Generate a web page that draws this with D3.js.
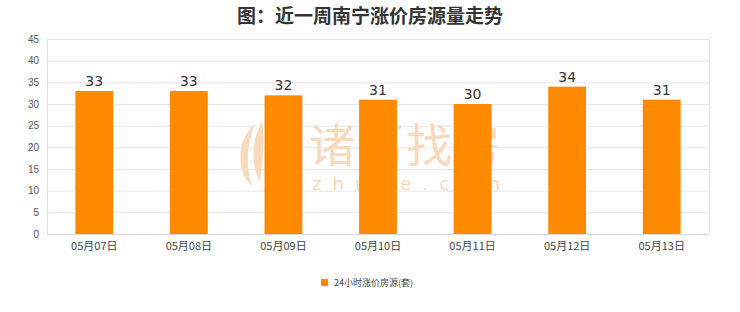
<!DOCTYPE html>
<html><head><meta charset="utf-8">
<script src="https://cdn.jsdelivr.net/npm/d3@7"></script>
<style>body{margin:0;background:#fff;}svg{display:block;}</style>
</head><body>
<svg id="c" width="740" height="312"></svg>
<script>
const categories = ["05月07日","05月08日","05月09日","05月10日","05月11日","05月12日","05月13日"];
const values = [33,33,32,31,30,34,31];
const yTicks = [0,5,10,15,20,25,30,35,40,45];
const title = "图：近一周南宁涨价房源量走势";
const seriesName = "24小时涨价房源(套)";

const svg = d3.select("#c");
const m = {l:47, r:709, t:39, b:234};
const font = "'Noto Sans CJK SC','Noto Sans',sans-serif";

const x = d3.scaleBand().domain(categories).range([m.l, m.r]).paddingInner(0.6).paddingOuter(0.3);
const y = d3.scaleLinear().domain([0,45]).range([m.b, m.t]);

// grid
svg.append("g").selectAll("line").data(yTicks).join("line")
  .attr("x1",m.l).attr("x2",m.r).attr("y1",d=>y(d)+0.5).attr("y2",d=>y(d)+0.5)
  .attr("stroke","#e6e6e6").attr("stroke-width",1);
svg.append("line").attr("x1",m.r+0.5).attr("x2",m.r+0.5).attr("y1",m.t).attr("y2",m.b).attr("stroke","#e6e6e6");
svg.append("line").attr("x1",m.l+0.5).attr("x2",m.l+0.5).attr("y1",m.t).attr("y2",m.b).attr("stroke","#e0e0e0");
svg.append("line").attr("x1",m.l).attr("x2",m.r).attr("y1",m.b+0.5).attr("y2",m.b+0.5).attr("stroke","#d8d8d8");

// watermark
const wmc = "#f9d9bc";
const wm = svg.append("g");
wm.append("text").attr("x",309).attr("y",162).attr("font-family",font).attr("font-size",46)
  .attr("fill",wmc).attr("textLength",192).attr("lengthAdjust","spacing").text("诸葛找房");
wm.append("text").attr("x",312).attr("y",190).attr("font-family","'DejaVu Sans',sans-serif").attr("font-size",18)
  .attr("fill",wmc).attr("textLength",188).attr("lengthAdjust","spacing").text("zhuge.com");
wm.append("path").attr("d","M255 124 C236 140 236 172 252 186 C246 168 246 146 255 124 Z M262 122 C250 142 252 168 260 182 C262 160 266 140 262 122 Z")
  .attr("fill",wmc);

// y axis labels
const ya = svg.append("g").attr("transform",`translate(${m.l},0)`)
  .call(d3.axisLeft(y).tickValues(yTicks).tickSize(0).tickPadding(8));
ya.select(".domain").remove();
ya.selectAll("text").attr("font-family","'Liberation Sans',Arial,sans-serif").attr("font-size",10).attr("fill","#555");

// x axis labels
const xa = svg.append("g").attr("transform",`translate(0,${m.b})`)
  .call(d3.axisBottom(x).tickSize(0).tickPadding(8));
xa.select(".domain").remove();
xa.selectAll("text").attr("font-family",font).attr("font-size",11).attr("fill","#444");

// bars
svg.append("g").selectAll("rect").data(values).join("rect")
  .attr("x",(d,i)=>x(categories[i])).attr("width",x.bandwidth())
  .attr("y",d=>y(d)).attr("height",d=>y(0)-y(d)).attr("fill","#ff8a00");

svg.append("g").selectAll("text").data(values).join("text")
  .attr("x",(d,i)=>x(categories[i])+x.bandwidth()/2).attr("y",d=>y(d)-5)
  .attr("text-anchor","middle").attr("font-family","'DejaVu Sans',sans-serif").attr("font-size",14).attr("fill","#333").text(d=>d);

// title
svg.append("text").attr("x",370).attr("y",23).attr("text-anchor","middle")
  .attr("font-family",font).attr("font-weight","bold").attr("font-size",19).attr("fill","#333").text(title);

// legend
svg.append("rect").attr("x",321).attr("y",279).attr("width",7).attr("height",7).attr("fill","#ff8a00");
svg.append("text").attr("x",334).attr("y",286).attr("font-family",font).attr("font-size",9).attr("fill","#444").text(seriesName);
</script>
</body></html>
